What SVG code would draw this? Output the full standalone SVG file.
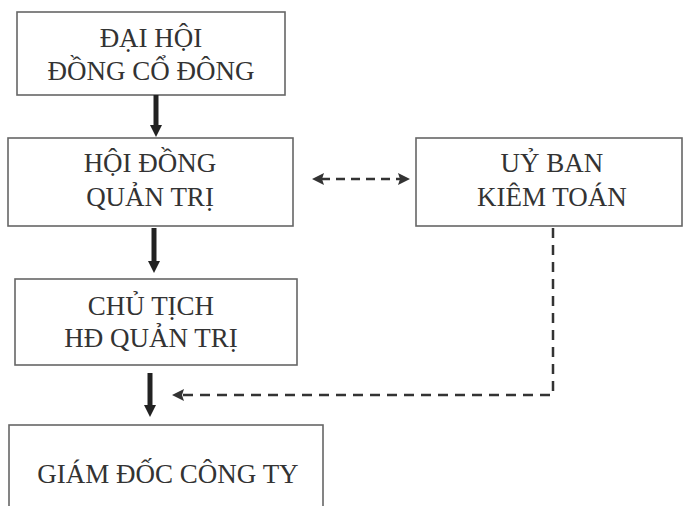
<svg xmlns="http://www.w3.org/2000/svg" width="684" height="506" viewBox="0 0 684 506">
<defs>
<style>
.box{fill:#fff;stroke:#666;stroke-width:1.6}
.t{font-family:"Liberation Serif","Times New Roman",serif;font-size:27px;fill:#333;text-anchor:middle}
.solid{stroke:#222;stroke-width:5;fill:none}
.dash{stroke:#333;stroke-width:2.5;fill:none}
</style>
<marker id="hs" markerUnits="userSpaceOnUse" markerWidth="14" markerHeight="14" refX="2" refY="6" orient="auto">
<path d="M0,0 L12,6 L0,12 z" fill="#222"/>
</marker>
<marker id="hd" markerUnits="userSpaceOnUse" markerWidth="14" markerHeight="14" refX="3" refY="6" orient="auto-start-reverse">
<path d="M0,0 L12,6 L0,12 L2,6 z" fill="#333"/>
</marker>
</defs>
<rect width="684" height="506" fill="#fff"/>
<g id="dai-hoi">
<rect class="box" x="17" y="12" width="268" height="83"/>
<text class="t" x="151" y="47">ĐẠI HỘI</text>
<text class="t" x="151" y="80">ĐỒNG CỔ ĐÔNG</text>
</g>
<g id="hoi-dong">
<rect class="box" x="8" y="138" width="285" height="88"/>
<text class="t" x="150" y="172">HỘI ĐỒNG</text>
<text class="t" x="150" y="206">QUẢN TRỊ</text>
</g>
<g id="uy-ban">
<rect class="box" x="416" y="138" width="266" height="88"/>
<text class="t" x="552" y="172">UỶ BAN</text>
<text class="t" x="552" y="206">KIÊM TOÁN</text>
</g>
<g id="chu-tich">
<rect class="box" x="15" y="279" width="282" height="86"/>
<text class="t" x="151" y="315">CHỦ TỊCH</text>
<text class="t" x="151" y="347">HĐ QUẢN TRỊ</text>
</g>
<g id="giam-doc">
<rect class="box" x="9" y="425" width="314" height="100"/>
<text class="t" x="168" y="483">GIÁM ĐỐC CÔNG TY</text>
</g>
<g id="connectors">
<line class="solid" x1="156" y1="95" x2="156" y2="127" marker-end="url(#hs)"/>
<line class="solid" x1="154" y1="228" x2="154" y2="263" marker-end="url(#hs)"/>
<line class="solid" x1="150" y1="373" x2="150" y2="407" marker-end="url(#hs)"/>
<line class="dash" x1="321" y1="179" x2="401" y2="179" stroke-dasharray="9 6" marker-start="url(#hd)" marker-end="url(#hd)"/>
<polyline class="dash" points="553,228 553,395 181,395" stroke-dasharray="10 7" marker-end="url(#hd)"/>
</g>
</svg>
